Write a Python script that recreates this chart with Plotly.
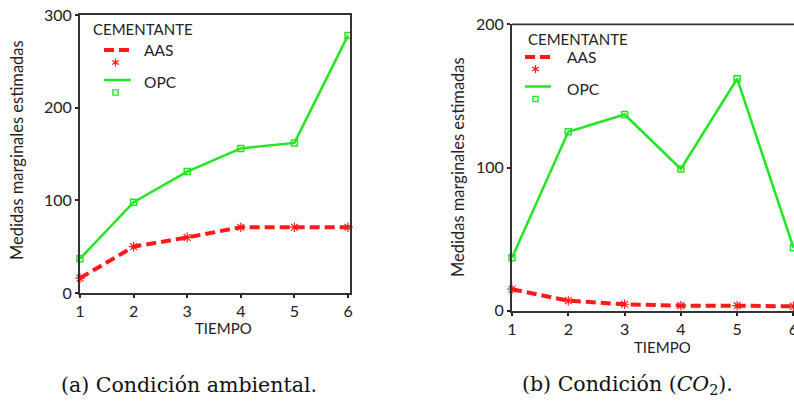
import plotly.graph_objects as go
import math

# ---- data ----
tiempo = [1, 2, 3, 4, 5, 6]
amb_aas = [16, 50, 60, 71, 71, 71]
amb_opc = [37, 98, 131, 156, 162, 278]
co2_aas = [15, 7, 4.5, 3.5, 3.5, 3]
co2_opc = [37, 125, 137, 99, 162, 44]
y_ticks_amb = [0, 100, 200, 300]
y_ticks_co2 = [0, 100, 200]
series_names = ["AAS", "OPC"]
legend_title = "CEMENTANTE"
x_title = "TIEMPO"
y_title = "Medidas marginales estimadas"
caption_a = "(a) Condición ambiental."
caption_b = "(b) Condición (<i>CO</i><sub>2</sub>)."

W, H = 794, 403
RED = "#ff1a1a"
GREEN = "#22e622"
FONT = "Lato"
TXT = "#222222"


def px(x):
    return x / W


def py(y):
    return 1 - y / H


fig = go.Figure()

# left panel
fig.add_trace(go.Scatter(x=tiempo, y=amb_opc, mode="lines+markers", name=series_names[1],
                         line=dict(color=GREEN, width=2.5),
                         marker=dict(symbol="square-open", size=6, color=GREEN, line=dict(width=1.5, color=GREEN)),
                         cliponaxis=False, showlegend=False, xaxis="x", yaxis="y"))
fig.add_trace(go.Scatter(x=tiempo, y=amb_aas, mode="lines+markers", name=series_names[0],
                         line=dict(color=RED, width=4, dash="10px,5px"),
                         marker=dict(symbol="asterisk-open", size=8, color=RED, line=dict(width=1.2, color=RED)),
                         cliponaxis=False, showlegend=False, xaxis="x", yaxis="y"))
# right panel
fig.add_trace(go.Scatter(x=tiempo, y=co2_opc, mode="lines+markers", name=series_names[1],
                         line=dict(color=GREEN, width=2.5),
                         marker=dict(symbol="square-open", size=6, color=GREEN, line=dict(width=1.5, color=GREEN)),
                         cliponaxis=False, showlegend=False, xaxis="x2", yaxis="y2"))
fig.add_trace(go.Scatter(x=tiempo, y=co2_aas, mode="lines+markers", name=series_names[0],
                         line=dict(color=RED, width=4, dash="10px,5px"),
                         marker=dict(symbol="asterisk-open", size=8, color=RED, line=dict(width=1.2, color=RED)),
                         cliponaxis=False, showlegend=False, xaxis="x2", yaxis="y2"))

axis_common = dict(showgrid=False, zeroline=False, showline=True, linecolor="#333333", linewidth=1.8,
                   ticks="outside", ticklen=3, tickwidth=2, tickcolor="#222222", automargin=False,
                   ticklabeloverflow="allow",
                   tickfont=dict(family=FONT, size=16, color=TXT))

fig.update_layout(
    width=W, height=H, margin=dict(l=0, r=0, t=0, b=0),
    paper_bgcolor="white", plot_bgcolor="white", showlegend=False,
    xaxis=dict(domain=[px(80), px(350)], range=[1, 6.037], tickvals=tiempo, mirror=True,
               anchor="y", **axis_common),
    yaxis=dict(domain=[py(293), py(15)], range=[0, 300], tickvals=y_ticks_amb, mirror=True,
               anchor="x", **axis_common),
    xaxis2=dict(domain=[px(512), 1.0], range=[1, 6.01], tickvals=tiempo, anchor="y2", **axis_common),
    yaxis2=dict(domain=[py(310.7), py(24.3)], range=[0, 200], tickvals=y_ticks_co2, anchor="x2",
                **axis_common),
)

shapes = []
annotations = []

# top border of right panel
shapes.append(dict(type="line", xref="x2 domain", yref="y2 domain", x0=0, x1=1, y0=1, y1=1,
                   line=dict(color="#333333", width=1.8)))


def text(x, y, s, size=15, xanchor="center", angle=0, family=FONT, color=TXT):
    annotations.append(dict(x=px(x), y=py(y), xref="paper", yref="paper", text=s, showarrow=False,
                            xanchor=xanchor, yanchor="middle", textangle=angle,
                            font=dict(family=family, size=size, color=color)))


def asterisk(cx, cy, r=4):
    parts = []
    for a in (90, 30, 150):
        dx = r * math.cos(math.radians(a))
        dy = r * math.sin(math.radians(a))
        parts.append(f"M {px(cx - dx)} {py(cy - dy)} L {px(cx + dx)} {py(cy + dy)}")
    shapes.append(dict(type="path", xref="paper", yref="paper", path=" ".join(parts),
                       line=dict(color=RED, width=1.3)))


def square(cx, cy, s=2.6):
    shapes.append(dict(type="rect", xref="paper", yref="paper", x0=px(cx - s), x1=px(cx + s),
                       y0=py(cy + s), y1=py(cy - s), line=dict(color=GREEN, width=1.4)))


def legend(x_title, y_title, x_line0, x_line1, x_text, y_aas, y_ast, y_opc, y_sq, x_mark):
    text(x_title, y_title, legend_title, size=15, xanchor="left")
    shapes.append(dict(type="line", xref="paper", yref="paper", x0=px(x_line0), x1=px(x_line1),
                       y0=py(y_aas), y1=py(y_aas), line=dict(color=RED, width=4, dash="10px,5px")))
    text(x_text, y_aas, series_names[0], size=15.5, xanchor="left")
    asterisk(x_mark, y_ast)
    shapes.append(dict(type="line", xref="paper", yref="paper", x0=px(x_line0), x1=px(x_line1),
                       y0=py(y_opc), y1=py(y_opc), line=dict(color=GREEN, width=2.5)))
    text(x_text, y_opc + 2, series_names[1], size=15.5, xanchor="left")
    square(x_mark, y_sq)


legend(91, 29, 104, 131, 142, 50, 62.5, 80, 92.5, 115.5)
legend(526, 39, 525, 551, 565, 57, 69, 86.5, 99, 535.5)

# axis titles
text(17, 150, y_title, size=16.5, angle=-90)
text(223, 328, x_title, size=15)
text(458, 167, y_title, size=16.5, angle=-90)
text(662, 347, x_title, size=15)

# captions
text(189, 385, caption_a, size=20.5, family="DejaVu Serif", color="#111111")
text(627, 385, caption_b, size=20.5, family="DejaVu Serif", color="#111111")

fig.update_layout(shapes=shapes, annotations=annotations)
fig.write_html("out.html", config={"displayModeBar": False},
               post_script="document.body.style.margin='0';document.body.style.overflow='hidden';")
